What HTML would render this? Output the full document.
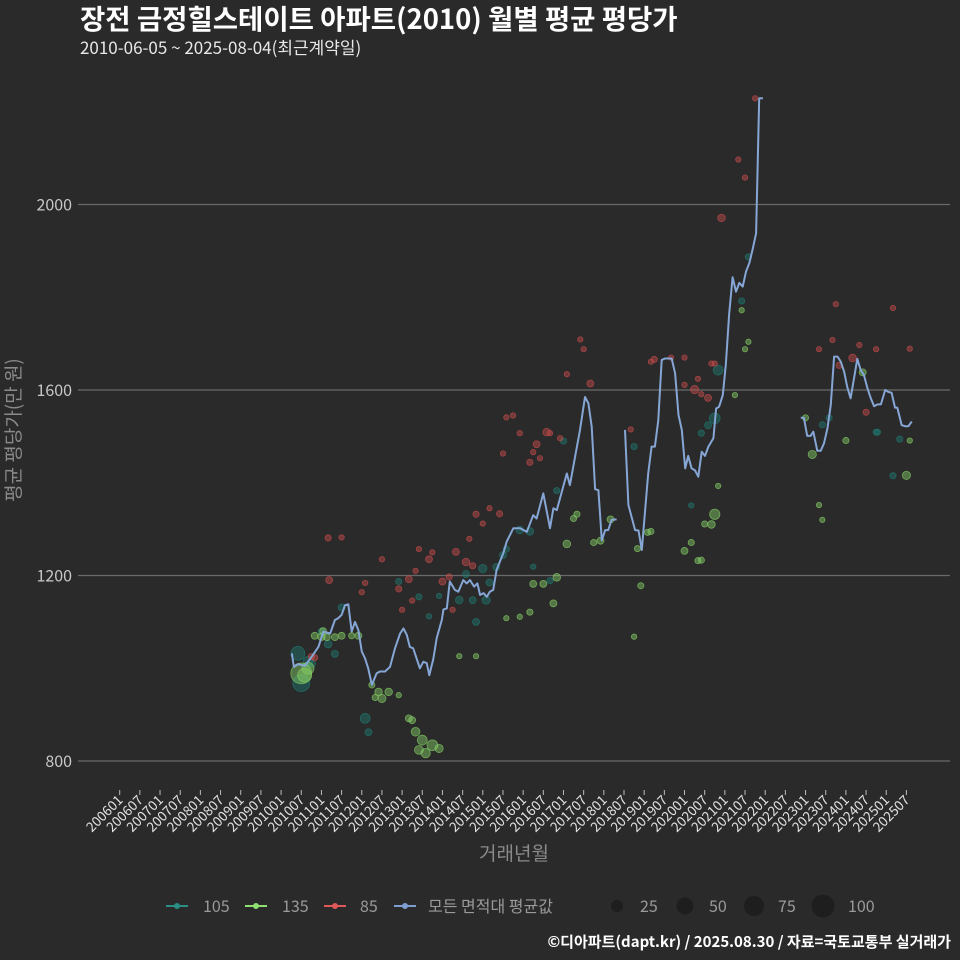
<!DOCTYPE html>
<html><head><meta charset="utf-8">
<style>
html,body{margin:0;padding:0;background:#2a2a2a;}
body{width:960px;height:960px;overflow:hidden;font-family:"Noto Sans CJK KR","Liberation Sans",sans-serif;}
svg{display:block}
svg text{font-family:"Noto Sans CJK KR","Liberation Sans",sans-serif;}
</style></head>
<body>
<svg id="chart" width="960" height="960" viewBox="0 0 960 960" xmlns="http://www.w3.org/2000/svg">
<rect width="960" height="960" fill="#2a2a2a"/>
<text x="80" y="29" fill="#ffffff" font-size="27.5" font-weight="bold">장전 금정힐스테이트 아파트(2010) 월별 평균 평당가</text>
<text x="80" y="54" fill="#e8e8e8" font-size="17">2010-06-05 ~ 2025-08-04(최근계약일)</text>
<g id="grid"></g>
<g id="yticks"></g>
<g id="xticks"></g>
<g id="points"></g>
<g id="lines"></g>
<text transform="translate(20,430) rotate(-90)" text-anchor="middle" fill="#8a8a8a" font-size="19">평균 평당가(만 원)</text>
<text x="514" y="860" text-anchor="middle" fill="#8a8a8a" font-size="19">거래년월</text>
<g id="legend" font-size="16" fill="#9a9a9a">
 <g><line x1="166" y1="906" x2="188" y2="906" stroke="#2a8f85" stroke-width="2"/><circle cx="177" cy="906" r="3" fill="#2a8f85"/><text x="203" y="912">105</text></g>
 <g><line x1="245" y1="906" x2="267" y2="906" stroke="#8fe070" stroke-width="2"/><circle cx="256" cy="906" r="3" fill="#8fe070"/><text x="282" y="912">135</text></g>
 <g><line x1="324" y1="906" x2="346" y2="906" stroke="#e05858" stroke-width="2"/><circle cx="335" cy="906" r="3" fill="#e05858"/><text x="360" y="912">85</text></g>
 <g><line x1="394" y1="906" x2="416" y2="906" stroke="#7f9fd0" stroke-width="2"/><circle cx="405" cy="906" r="3" fill="#7f9fd0"/><text x="428" y="912">모든 면적대 평균값</text></g>
 <g><circle cx="617" cy="906" r="6" fill="#1e1e1e"/><text x="640" y="912">25</text></g>
 <g><circle cx="685" cy="906" r="8.5" fill="#1e1e1e"/><text x="709" y="912">50</text></g>
 <g><circle cx="754" cy="906" r="10" fill="#1e1e1e"/><text x="778" y="912">75</text></g>
 <g><circle cx="823" cy="906" r="11.5" fill="#1e1e1e"/><text x="848" y="912">100</text></g>
</g>
<text x="951" y="947" text-anchor="end" fill="#ffffff" font-size="15" font-weight="bold">©디아파트(dapt.kr) / 2025.08.30 / 자료=국토교통부 실거래가</text>
</svg>
<script>
// month index: 0 = 2006-01
const yTicks = [800, 1200, 1600, 2000];
const xTickLabels = ["200601","200607","200701","200707","200801","200807","200901","200907","201001","201007","201101","201107","201201","201207","201301","201307","201401","201407","201501","201507","201601","201607","201701","201707","201801","201807","201901","201907","202001","202007","202101","202107","202201","202207","202301","202307","202401","202407","202501","202507"];
const avgSeg1Months = [51.2,51.8,53.1,55.1,57.1,59.1,60.6,62.6,64,65,66,67,68,69,70,71,72,73,73.9,75,76.4,77.4,78.9,80.4,81.9,83.4,84.4,85.4,86.3,87.3,88.3,89.3,90.3,91.3,92.1,93.3,94.3,95.8,96.3,97.3,98.2,99.7,100.7,102.2,103.2,104.2,105.4,106.4,107.2,108.2,109.2,110.1,111.1,112.1,113.1,114.1,115.1,117.1,119.1,121.1,123,124,126,128,129,130,133,133.9,136.9,138.4,139.4,140.4,141.4,142.4,143.4,144.4,145.3,146.3,147.8];
const avgSeg1Values = [1032,1003,1009,1005,1025,1046,1079,1075,1104,1108,1115,1136,1138,1079,1100,1082,1036,1021,1000,964,989,993,993,1003,1043,1075,1086,1072,1046,1043,1021,1000,1014,1011,985,1021,1065,1104,1127,1129,1187,1169,1165,1190,1183,1190,1176,1183,1158,1162,1154,1165,1169,1212,1230,1248,1273,1302,1302,1294,1330,1323,1377,1302,1345,1341,1420,1395,1514,1585,1571,1521,1386,1384,1276,1298,1298,1320,1321];
const avgSeg2Months = [150.3,151.3,153.3,154.3,155.3,157.2,158.2,159.2,160.2,161.2,162.2,164.2,165.2,166.2,167.2,168.2,169.1,170.1,171.1,172.1,173.1,174.1,175.1,176.6,177.4,178.3,179.4,180.3,181.3,182.3,183.3,184.3,185.3,186.3,187.3,188.3,189.3,190.2,191.3];
const avgSeg2Values = [1514,1352,1298,1297,1255,1420,1478,1478,1535,1665,1668,1668,1636,1546,1514,1431,1458,1431,1427,1413,1467,1458,1478,1496,1560,1564,1589,1657,1765,1843,1812,1831,1823,1855,1874,1905,1938,2229,2229];
const avgSeg3Months = [202.6,203.5,204.5,205.5,206.3,207.5,208.5,209.5,210.5,211.5,212.5,213.5,214.5,215.5,216.4,217.4,218.4,219.4,220.4,221.4,222.4,223.4,224.4,225.4,226.4,227.7,228.6,229.6,230.6,231.3,232.6,233.6,234.6,235.6];
const avgSeg3Values = [1540,1540,1501,1501,1510,1469,1469,1485,1517,1568,1672,1672,1661,1639,1607,1582,1625,1667,1643,1632,1604,1582,1565,1569,1569,1600,1596,1594,1562,1562,1524,1522,1522,1532];
// scatter series: month, value, count
const p85Months = [62,62.3,66,73,72,78,83,86,89,93,92,88,87,84,100,103,105,96,98,99,104,57,58,115,117,119,114,122,123,124,127,128,125,131,133,137,138,140,106,108,110,113,152,158,159,164,168,168,172,171,173,175,176,177,179,184,186,189,213,212,208,218,214,220,225,230,235,222];
const p85Values = [1281,1190,1282,1184,1164,1235,1171,1192,1257,1250,1235,1210,1146,1126,1251,1229,1221,1187,1197,1126,1279,1025,1023,1541,1545,1507,1463,1444,1466,1483,1509,1507,1453,1496,1634,1709,1688,1614,1332,1312,1345,1333,1515,1661,1666,1670,1670,1611,1624,1601,1591,1583,1657,1657,1971,2097,2058,2229,1785,1708,1688,1669,1653,1697,1688,1777,1689,1552];
const p85Counts = [8,10,6,6,6,6,8,10,6,6,10,6,6,6,10,12,8,10,8,6,6,8,8,6,6,6,6,8,6,10,12,6,6,6,6,6,6,10,8,6,6,8,6,6,8,6,6,6,6,14,6,10,6,6,12,6,6,6,6,6,6,12,8,6,6,6,6,8];
const p135Months = [54,58,60,61.6,64,66,69,71,75,77,78,80,83,76,86,87,88,90,91,93,89,95,101,106,115,119,122,123,126,130,129,133,135,136,141,143,146,154,155,157,158,168,170,172,173,174,176,177,178,183,185,186,187,204,206,208,209,216,221,235,234,153,55,56,60.5];
const p135Values = [989,1070,1068,1067,1067,1070,1070,1070,964,949,935,949,942,937,892,888,863,845,817,834,824,827,1026,1026,1108,1111,1121,1182,1182,1196,1140,1268,1323,1332,1271,1275,1321,1258,1178,1293,1295,1253,1271,1232,1233,1311,1310,1332,1393,1589,1772,1688,1704,1540,1461,1352,1320,1491,1638,1491,1416,1068,985,1000,1080];
const p135Counts = [90,10,12,10,10,10,8,10,8,12,14,12,6,8,10,10,16,20,18,24,16,14,6,6,6,6,8,10,10,12,10,12,8,8,8,10,10,8,8,8,8,10,8,8,8,8,12,22,6,6,6,6,6,8,14,6,6,8,10,6,14,6,40,30,10];
const p105Months = [53,54,60,62,64,66,73,74,83,89,92,95,101,105,106,103,108,109,110,112,114,115,123,128,119,122,130,132,153,170,173,175,177,178,185,187,209,211,225,225.4,232,230,57,56];
const p105Values = [1032,968,1079,1052,1031,1131,892,862,1187,1154,1112,1156,1147,1147,1100,1203,1215,1147,1185,1218,1244,1257,1219,1189,1298,1295,1383,1490,1478,1351,1507,1524,1539,1643,1792,1887,1525,1540,1509,1509,1494,1415,1010,1015];
const p105Counts = [40,60,10,12,10,10,20,10,8,8,6,6,12,10,10,10,14,14,10,10,10,8,6,8,12,12,8,8,8,6,8,10,24,20,8,8,8,8,8,8,8,8,14,20];

const NS = "http://www.w3.org/2000/svg";
function xScale(m){ return 119.7 + m * 3.362; }
function yScale(v){ return 761 - (v - 800) * 185.5 / 400; }
function rScale(n){ return 1.1 * Math.sqrt(n); }

const grid = document.getElementById('grid');
const yt = document.getElementById('yticks');
yTicks.forEach(function(v){
  const l = document.createElementNS(NS,'line');
  l.setAttribute('x1',78); l.setAttribute('x2',950);
  l.setAttribute('y1',yScale(v)); l.setAttribute('y2',yScale(v));
  l.setAttribute('stroke','#6a6a6a'); l.setAttribute('stroke-width','1.2');
  
  
  grid.appendChild(l);
  const t = document.createElementNS(NS,'text');
  t.setAttribute('x',72); t.setAttribute('y',yScale(v)+6);
  t.setAttribute('text-anchor','end'); t.setAttribute('fill','#c8c8c8');
  t.setAttribute('font-size','16'); t.textContent = v;
  
  
  yt.appendChild(t);
});

const xt = document.getElementById('xticks');
xTickLabels.forEach(function(lab, i){
  const x = xScale(i * 6);
  const tk = document.createElementNS(NS,'line');
  tk.setAttribute('x1',x); tk.setAttribute('x2',x); tk.setAttribute('y1',790); tk.setAttribute('y2',795);
  tk.setAttribute('stroke','#bbbbbb'); tk.setAttribute('stroke-width','1');
  
  
  xt.appendChild(tk);
  const t = document.createElementNS(NS,'text');
  t.setAttribute('transform','translate(' + (x+4) + ',801) rotate(-45)');
  t.setAttribute('text-anchor','end'); t.setAttribute('fill','#e0e0e0');
  t.setAttribute('font-size','13.5'); t.textContent = lab;
  
  
  xt.appendChild(t);
});

const pts = document.getElementById('points');
function drawPoints(ms, vs, cs, color, name){
  ms.forEach(function(m, i){
    const c = document.createElementNS(NS,'circle');
    c.setAttribute('cx', xScale(m)); c.setAttribute('cy', yScale(vs[i]));
    c.setAttribute('r', rScale(cs[i]));
    c.setAttribute('fill', color); c.setAttribute('fill-opacity','0.45');
    c.setAttribute('stroke', color); c.setAttribute('stroke-opacity','0.7'); c.setAttribute('stroke-width','0.8');
    
    
    pts.appendChild(c);
  });
}
drawPoints(p105Months, p105Values, p105Counts, '#1f7a72', 'point-105');
drawPoints(p135Months, p135Values, p135Counts, '#86d066', 'point-135');
drawPoints(p85Months, p85Values, p85Counts, '#c94b4b', 'point-85');

const lines = document.getElementById('lines');
function drawLine(ms, vs, name){
  const d = ms.map(function(m,i){ return (i ? 'L' : 'M') + xScale(m).toFixed(1) + ',' + yScale(vs[i]).toFixed(1); }).join(' ');
  const p = document.createElementNS(NS,'path');
  p.setAttribute('d', d); p.setAttribute('fill','none');
  p.setAttribute('stroke','#86a6d6'); p.setAttribute('stroke-width','2');
  p.setAttribute('stroke-linejoin','round');
  
  
  lines.appendChild(p);
}
drawLine(avgSeg1Months, avgSeg1Values, 'average-line-segment-1');
drawLine(avgSeg2Months, avgSeg2Values, 'average-line-segment-2');
drawLine(avgSeg3Months, avgSeg3Values, 'average-line-segment-3');
</script>
</body></html>
